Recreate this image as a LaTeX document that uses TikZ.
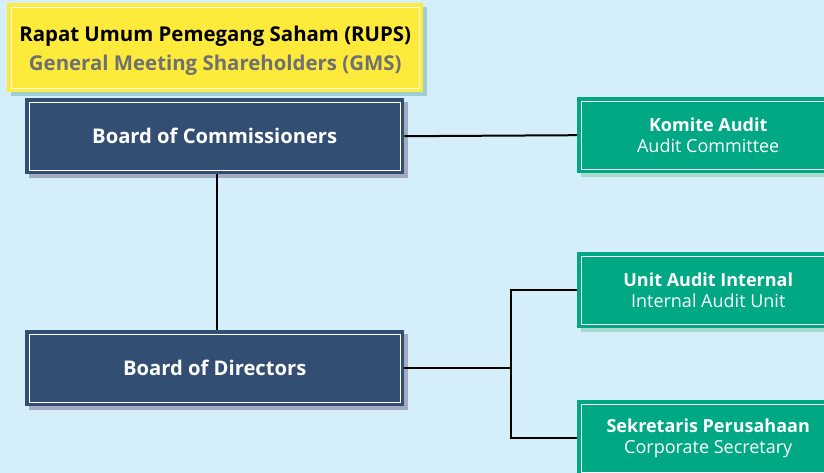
\documentclass[tikz,border=0pt]{standalone}
\usepackage{fontspec}
\setmainfont{Open Sans}
\usetikzlibrary{shadows}
\definecolor{bg}{HTML}{D4EEFA}
\definecolor{navy}{HTML}{324F73}
\definecolor{grn}{HTML}{00A884}
\definecolor{yel}{HTML}{FDEA3A}
\definecolor{gtxt}{HTML}{6E7072}
\definecolor{yshadow}{HTML}{9ECFD0}
\definecolor{nshadow}{HTML}{A4AAC2}
\definecolor{gshadow}{HTML}{A6DACA}
\tikzset{
  framed/.style={rectangle, inner sep=0pt, anchor=north west, align=center,
    path picture={\draw[white,line width=1pt]
      ([shift={(4pt,-4pt)}]path picture bounding box.north west) rectangle
      ([shift={(-4pt,4pt)}]path picture bounding box.south east);}},
  yelbox/.style={framed, fill=yel, minimum width=416pt, minimum height=89pt,
    drop shadow={shadow xshift=4pt, shadow yshift=-4pt, fill=yshadow, opacity=1}},
  navybox/.style={framed, fill=navy, text=white, minimum width=379pt, minimum height=76pt,
    font=\fontsize{20.2}{24}\selectfont\bfseries,
    drop shadow={shadow xshift=4pt, shadow yshift=-4pt, fill=nshadow, opacity=1}},
  grnbox/.style={framed, fill=grn, text=white, minimum width=262pt, minimum height=76pt,
    font=\fontsize{18}{21.5}\selectfont,
    drop shadow={shadow xshift=4pt, shadow yshift=-4pt, fill=gshadow, opacity=1}},
  conn/.style={draw=black, line width=2pt}
}
\begin{document}
\begin{tikzpicture}[x=1pt,y=-1pt]
\fill[bg] (0,0) rectangle (824,473);
\useasboundingbox (0,0) rectangle (824,473);
\node[navybox] (boc) at (25,98) {Board of Commissioners};
\node[navybox] (bod) at (25,330) {Board of Directors};
\node[yelbox, font=\fontsize{20.4}{29}\selectfont] (gms) at (7,3)
  {\rule{0pt}{21pt}\textbf{Rapat Umum Pemegang Saham (RUPS)}\\\textcolor{gtxt}{\textbf{General Meeting Shareholders (GMS)}}};
\node[grnbox] (ka) at (577,97) {\textbf{Komite Audit}\\Audit Committee};
\node[grnbox] (iau) at (577,252) {\textbf{Unit Audit Internal}\\Internal Audit Unit};
\node[grnbox] (cs) at (577,400) {\textbf{Sekretaris Perusahaan}\\Corporate Secretary};
\coordinate (j) at ([xshift=107pt]bod.east);
\draw[conn] ([xshift=2pt]boc.south) -- ([xshift=2pt]bod.north);
\draw[conn] (boc.east) -- (ka.west);
\draw[conn] (bod.east) -- (j);
\draw[conn] (iau.west) -| (j) |- (cs.west);
\end{tikzpicture}
\end{document}
